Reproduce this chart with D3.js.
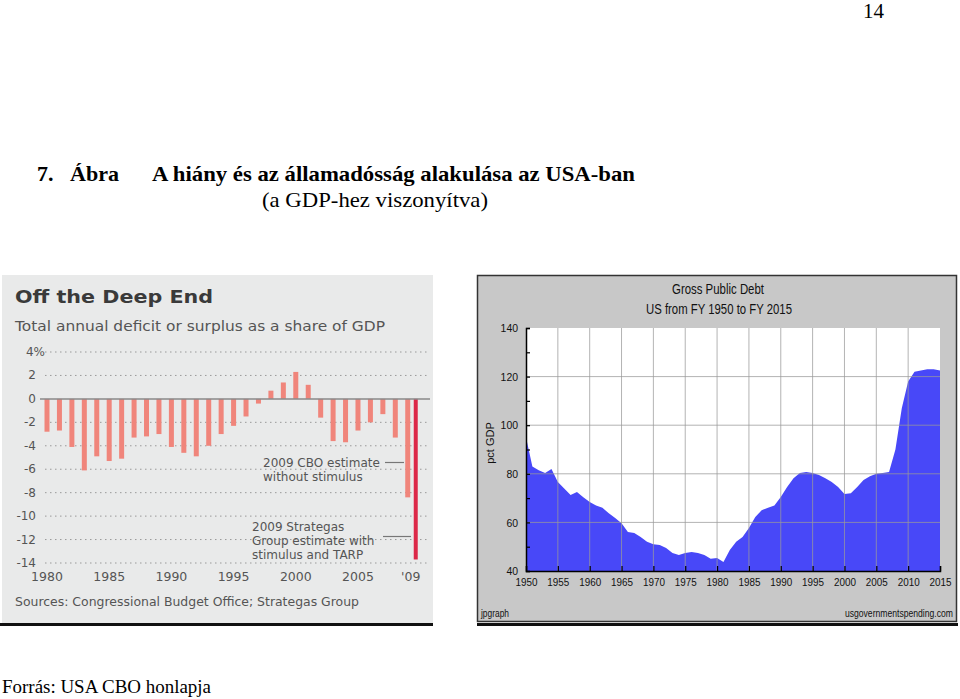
<!DOCTYPE html>
<html><head><meta charset="utf-8">
<script src="https://cdn.jsdelivr.net/npm/d3@7/dist/d3.min.js"></script>
<style>
html,body{margin:0;padding:0;background:#fff;}
svg{display:block;}
</style></head>
<body>
<script>
// ---------- DATA ----------
const deficitYears = d3.range(1980, 2009); // 1980..2008
const deficitValues = [-2.8,-2.7,-4.1,-6.1,-4.9,-5.3,-5.1,-3.3,-3.2,-3.0,
  -4.1,-4.6,-4.9,-4.0,-3.0,-2.3,-1.5,-0.4,0.7,1.4,
  2.3,1.2,-1.6,-3.6,-3.7,-2.7,-2.0,-1.3,-3.3];
const cbo2009 = -8.4;
const strategas2009 = -13.7;
const deficitTicks = [4,2,0,-2,-4,-6,-8,-10,-12,-14];
const deficitYearLabels = [[1980,"1980"],[1985,"1985"],[1990,"1990"],[1995,"1995"],[2000,"2000"],[2005,"2005"],[2009,"'09"]];

const debtYears = d3.range(1950, 2016);
const debtValues = [95,83,81.5,80.3,82,76.6,74,71.3,72.5,70.4,
  68.4,67,66,63.8,61.8,59.7,56,55.6,54,52,
  51,50.7,49.5,47.4,46.6,47.4,47.8,47.4,46.6,45,
  45.3,43.7,48.6,52,54,57.7,62.2,65,66,67,
  70.5,74.6,78.2,80.3,80.7,80.3,79.5,78.2,76.6,74.6,
  71.7,72,74.6,77.4,79,80,80.3,80.7,90,107,
  118,122,122.5,123,123,122.5];
const debtYTicks = [140,120,100,80,60,40];
const debtXTicks = d3.range(1950, 2016, 5);

// ---------- SVG ----------
const W = 960, H = 699;
const svg = d3.select("body").append("svg").attr("width", W).attr("height", H);

const serif = "'Liberation Serif','Times New Roman',serif";
svg.append("text").attr("x", 884).attr("y", 18).attr("text-anchor","end")
  .attr("font-family", serif).attr("font-size", 21).text("14");
svg.append("text").attr("x", 37).attr("y", 181).attr("font-family", serif)
  .attr("font-size", 22).attr("font-weight","bold").text("7.");
svg.append("text").attr("x", 70).attr("y", 181).attr("font-family", serif)
  .attr("font-size", 22).attr("font-weight","bold").attr("textLength", 49).attr("lengthAdjust","spacingAndGlyphs").text("Ábra");
svg.append("text").attr("x", 152).attr("y", 181).attr("font-family", serif)
  .attr("font-size", 22).attr("font-weight","bold").attr("textLength", 483).attr("lengthAdjust","spacingAndGlyphs")
  .text("A hiány és az államadósság alakulása az USA-ban");
svg.append("text").attr("x", 262).attr("y", 207)
  .attr("font-family", serif).attr("font-size", 22).attr("textLength", 226).attr("lengthAdjust","spacingAndGlyphs")
  .text("(a GDP-hez viszonyítva)");
svg.append("text").attr("x", 2).attr("y", 693).attr("font-family", serif)
  .attr("font-size", 18).attr("textLength", 209).attr("lengthAdjust","spacingAndGlyphs").text("Forrás: USA CBO honlapja");

// ---------- LEFT CHART ----------
const sans = "'DejaVu Sans',Verdana,sans-serif";
const L = svg.append("g");
L.append("rect").attr("x", 2).attr("y", 275).attr("width", 431).attr("height", 348).attr("fill", "#e9eaea");
L.append("rect").attr("x", 0).attr("y", 623).attr("width", 433).attr("height", 3).attr("fill", "#111");

L.append("text").attr("x", 15).attr("y", 303).attr("font-family", sans).attr("font-size", 18)
  .attr("font-weight","bold").attr("fill","#3a3a3a").attr("textLength", 198).attr("lengthAdjust","spacingAndGlyphs")
  .text("Off the Deep End");
L.append("text").attr("x", 15).attr("y", 331).attr("font-family", sans).attr("font-size", 14)
  .attr("fill","#555").attr("textLength", 370).attr("lengthAdjust","spacingAndGlyphs")
  .text("Total annual deficit or surplus as a share of GDP");

const xL = d3.scaleLinear().domain([1980, 2008]).range([47, 395.3]);
const yL = d3.scaleLinear().domain([4, -14]).range([352, 563]);

deficitTicks.forEach(t => {
  if (t !== 0) {
    L.append("line").attr("x1", 45).attr("x2", 430).attr("y1", yL(t)).attr("y2", yL(t))
      .attr("stroke", "#999").attr("stroke-width", 1).attr("stroke-dasharray", "1.5,3.5");
  }
  L.append("text").attr("x", t === 4 ? 45 : 36).attr("y", yL(t) + 4).attr("text-anchor","end")
    .attr("font-family", sans).attr("font-size", 12).attr("fill","#555")
    .text(t === 4 ? "4%" : String(t));
});

L.selectAll("rect.bar").data(deficitValues).enter().append("rect").attr("class","bar")
  .attr("x", (d,i) => xL(deficitYears[i]) - 2.5).attr("width", 5)
  .attr("y", d => yL(Math.max(0, d))).attr("height", d => Math.abs(yL(d) - yL(0)))
  .attr("fill", "#f0857b");
L.append("rect").attr("x", xL(2009) - 2.5).attr("width", 5)
  .attr("y", yL(0)).attr("height", yL(cbo2009) - yL(0)).attr("fill", "#f0857b");
L.append("rect").attr("x", xL(2009) + 6).attr("width", 4)
  .attr("y", yL(0)).attr("height", yL(strategas2009) - yL(0)).attr("fill", "#dc2848");

L.append("line").attr("x1", 40).attr("x2", 430).attr("y1", yL(0)).attr("y2", yL(0))
  .attr("stroke", "#888").attr("stroke-width", 1.5);

deficitYearLabels.forEach(([y, lab]) => {
  L.append("text").attr("x", xL(y) + (y === 2009 ? 3 : 0)).attr("y", 581).attr("text-anchor","middle")
    .attr("font-family", sans).attr("font-size", 12.5).attr("fill","#555").text(lab);
});

// annotations
const ann = (x, y, s) => L.append("text").attr("x", x).attr("y", y).attr("font-family", sans)
  .attr("font-size", 12).attr("fill", "#555").text(s);
ann(263, 467, "2009 CBO estimate");
ann(263, 481, "without stimulus");
L.append("line").attr("x1", 385).attr("x2", 404).attr("y1", 462.5).attr("y2", 462.5).attr("stroke","#777").attr("stroke-width",1.2);
ann(252, 531, "2009 Strategas");
ann(252, 545, "Group estimate with");
ann(252, 559, "stimulus and TARP");
L.append("line").attr("x1", 383).attr("x2", 411).attr("y1", 536.5).attr("y2", 536.5).attr("stroke","#777").attr("stroke-width",1.2);

L.append("text").attr("x", 15).attr("y", 606).attr("font-family", sans).attr("font-size", 12)
  .attr("fill","#555").attr("textLength", 344).attr("lengthAdjust","spacingAndGlyphs")
  .text("Sources: Congressional Budget Office; Strategas Group");

// ---------- RIGHT CHART ----------
const narrow = "'Liberation Sans Narrow','Arial Narrow','Liberation Sans',Arial,sans-serif";
const R = svg.append("g");
R.append("rect").attr("x", 477.5).attr("y", 275.5).attr("width", 479).attr("height", 346)
  .attr("fill", "#c8c8c8").attr("stroke", "#333").attr("stroke-width", 1.5);
R.append("rect").attr("x", 477).attr("y", 623).attr("width", 481).attr("height", 3).attr("fill", "#111");

const xR = d3.scaleLinear().domain([1950, 2015]).range([526, 940]);
const yR = d3.scaleLinear().domain([40, 140]).range([571, 328]);

R.append("rect").attr("x", xR(1950)).attr("y", yR(140)).attr("width", xR(2015) - xR(1950))
  .attr("height", yR(40) - yR(140)).attr("fill", "#fff");

const area = d3.area().x((d,i) => xR(debtYears[i])).y0(yR(40)).y1(d => yR(d));
R.append("path").datum(debtValues).attr("d", area).attr("fill", "#4848f8");

// grid on top
debtXTicks.slice(1, -1).forEach(t => {
  R.append("line").attr("x1", xR(t)).attr("x2", xR(t)).attr("y1", yR(140)).attr("y2", yR(40))
    .attr("stroke", "#999").attr("stroke-opacity", 0.75).attr("stroke-width", 1);
});
debtYTicks.slice(1, -1).forEach(t => {
  R.append("line").attr("x1", xR(1950)).attr("x2", xR(2015)).attr("y1", yR(t)).attr("y2", yR(t))
    .attr("stroke", "#999").attr("stroke-opacity", 0.75).attr("stroke-width", 1);
});

// axes
const yAxis = d3.axisLeft(yR).tickValues(d3.range(40, 141, 10)).tickSize(-4)
  .tickFormat(d => debtYTicks.includes(d) ? d : "");
const gy = R.append("g").attr("transform", `translate(${xR(1950)},0)`).call(yAxis);
gy.select(".domain").attr("stroke", "#000").attr("stroke-width", 1.5);
gy.selectAll(".tick line").attr("stroke", "#000").attr("stroke-width", 1.2);
gy.selectAll(".tick text").attr("x", -8).attr("font-family", narrow).attr("font-size", 11.5).attr("fill", "#111")
  .each(function(d){ if (debtYTicks.includes(d)) d3.select(this).attr("textLength", String(d).length * 5.8).attr("lengthAdjust","spacingAndGlyphs"); });

const xAxis = d3.axisBottom(xR).tickValues(debtXTicks).tickSize(-5).tickFormat(d3.format("d"));
const gx = R.append("g").attr("transform", `translate(0,${yR(40)})`).call(xAxis);
gx.select(".domain").attr("stroke", "#000").attr("stroke-width", 1.5);
gx.selectAll(".tick line").attr("stroke", "#000").attr("stroke-width", 1.2);
gx.selectAll(".tick text").attr("y", 7).attr("font-family", narrow).attr("font-size", 11.5).attr("fill", "#111")
  .attr("textLength", 22).attr("lengthAdjust","spacingAndGlyphs");

R.append("text").attr("x", 718).attr("y", 294).attr("text-anchor","middle").attr("font-family", narrow)
  .attr("font-size", 14).attr("fill", "#111").attr("textLength", 92).attr("lengthAdjust","spacingAndGlyphs")
  .text("Gross Public Debt");
R.append("text").attr("x", 719).attr("y", 314).attr("text-anchor","middle").attr("font-family", narrow)
  .attr("font-size", 14).attr("fill", "#111").attr("textLength", 146).attr("lengthAdjust","spacingAndGlyphs")
  .text("US from FY 1950 to FY 2015");
R.append("text").attr("transform", "translate(494,443) rotate(-90)").attr("text-anchor","middle")
  .attr("font-family", "'Liberation Sans',Arial,sans-serif").attr("font-size", 11).attr("fill", "#111").text("pct GDP");
R.append("text").attr("x", 481).attr("y", 617).attr("font-family", narrow).attr("font-size", 10.5)
  .attr("fill", "#111").attr("textLength", 28).attr("lengthAdjust","spacingAndGlyphs").text("jpgraph");
R.append("text").attr("transform", "translate(953,617) scale(0.82,1)").attr("text-anchor","end")
  .attr("font-family", narrow).attr("font-size", 10.5).attr("fill", "#111")
  .text("usgovernmentspending.com");
</script>
</body></html>
